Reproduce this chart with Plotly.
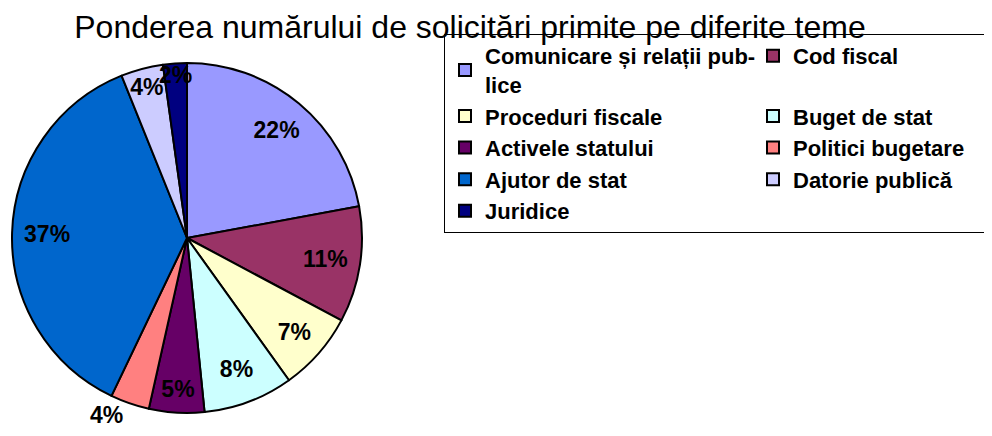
import plotly.graph_objects as go

categories = ["Comunicare și relații pub-<br>lice", "Cod fiscal", "Proceduri fiscale",
              "Buget de stat", "Activele statului", "Politici bugetare",
              "Ajutor de stat", "Datorie publică", "Juridice"]
values = [22.1, 10.7, 7.3, 8.3, 5.1, 3.6, 36.8, 3.9, 2.2]
colors = ["#9999FF", "#993366", "#FFFFCC", "#CCFFFF", "#660066",
          "#FF8080", "#0066CC", "#CCCCFF", "#000080"]
title = "Ponderea numărului de solicitări primite pe diferite teme"

# which labels sit near the rim (small slices) vs. in the outer ring (large slices)
rim_labels = [False, False, False, False, False, True, False, True, True]

# page has an 8px body margin; figure sized to fill the remaining window
OFF = 8
W, H = 992 - OFF, 436 - OFF
ML, MR = 0, 300
PW = W - ML - MR

# pie in page pixels: centre (187, 238), radius 175
cx, cy, R = 187 - OFF, 238 - OFF, 175
dom = dict(x=[(cx - R) / PW, (cx + R) / PW], y=[(H - cy - R) / H, (H - cy + R) / H])

pct = "%{percent:.0%}"
lab_font = dict(family="Liberation Sans, Arial", size=23, color="black", weight="bold")

fig = go.Figure()
# full pie: slices, outlines, legend and the small-slice labels
fig.add_trace(go.Pie(
    labels=categories, values=values, sort=False, direction="clockwise", rotation=0,
    marker=dict(colors=colors, line=dict(color="black", width=2)),
    texttemplate=[pct if r else "" for r in rim_labels],
    textposition=["outside" if i == 5 else "inside" for i in range(len(values))],
    insidetextorientation="horizontal", textfont=lab_font,
    domain=dom, hoverinfo="label+percent",
))
# transparent ring over it, used only to place the large-slice labels in the outer band
fig.add_trace(go.Pie(
    labels=categories, values=values, sort=False, direction="clockwise", rotation=0,
    hole=0.6, showlegend=False,
    marker=dict(colors=["rgba(0,0,0,0)"] * len(values), line=dict(width=0)),
    texttemplate=["" if r else pct for r in rim_labels], textposition="inside",
    insidetextorientation="horizontal", textfont=lab_font,
    domain=dom, hoverinfo="skip",
))

fig.update_layout(
    width=W, height=H,
    margin=dict(l=ML, r=MR, t=0, b=0, autoexpand=False),
    paper_bgcolor="white", plot_bgcolor="white",
    font=dict(family="Liberation Sans, Arial", color="black"),
    title=dict(text=title, x=(470 - OFF) / W, xref="container", xanchor="center",
               y=1 - (38 - OFF) / H, yref="container", yanchor="bottom",
               font=dict(size=32, color="black")),
    showlegend=True,
    legend=dict(orientation="h", x=(444 - OFF) / PW, xanchor="left",
                y=1 - (34 - OFF) / H, yanchor="top",
                bgcolor="white", bordercolor="black", borderwidth=1,
                entrywidth=263, entrywidthmode="pixels",
                font=dict(size=22, weight="bold", color="black")),
    uniformtext=dict(minsize=23, mode="show"),
)

fig.write_html("out.html")
